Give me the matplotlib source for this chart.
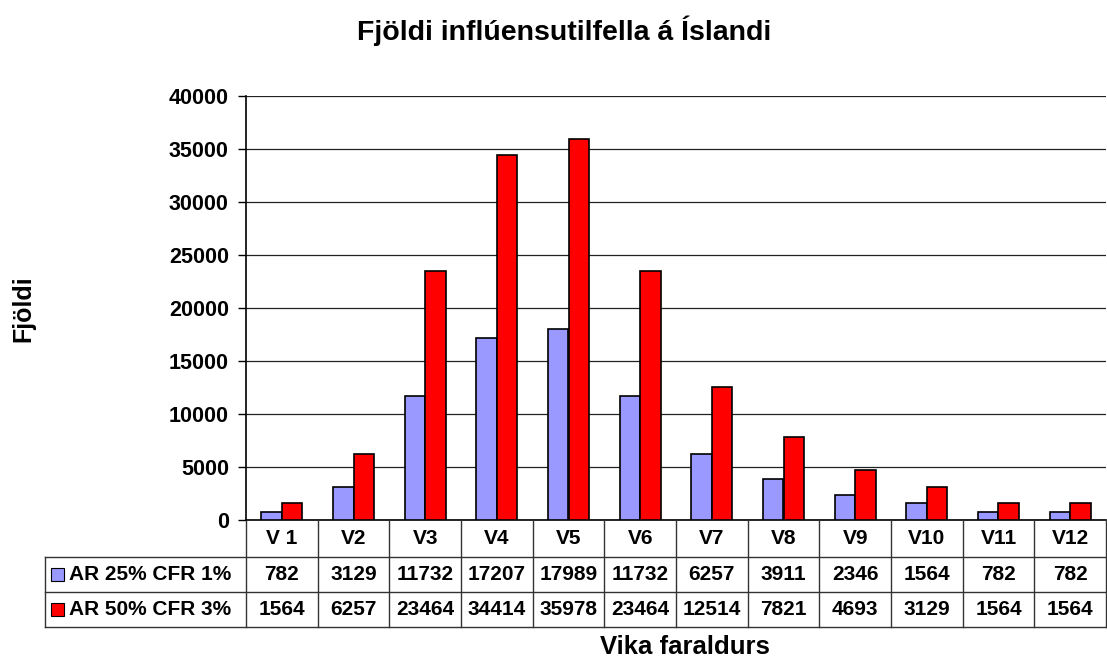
import matplotlib.pyplot as plt
import matplotlib.transforms as mtransforms
from matplotlib.patches import Rectangle
import numpy as np

plt.rcParams['font.family'] = ['Liberation Sans', 'DejaVu Sans']
plt.rcParams['font.weight'] = 'bold'

weeks = ['V 1', 'V2', 'V3', 'V4', 'V5', 'V6', 'V7', 'V8', 'V9', 'V10', 'V11', 'V12']
series_names = ['AR 25% CFR 1%', 'AR 50% CFR 3%']
ar25 = [782, 3129, 11732, 17207, 17989, 11732, 6257, 3911, 2346, 1564, 782, 782]
ar50 = [1564, 6257, 23464, 34414, 35978, 23464, 12514, 7821, 4693, 3129, 1564, 1564]
colors = ['#9999FF', '#FF0000']

W, H = 1107, 659
fig = plt.figure(figsize=(W / 100, H / 100), dpi=100)

# plot area in pixels
left, right, top, bottom = 246, 1106, 96, 520
ax = fig.add_axes([left / W, 1 - bottom / H, (right - left) / W, (bottom - top) / H])

x = np.arange(len(weeks))
bw = 1 / 3.5
ax.bar(x - bw / 2, ar25, bw, color=colors[0], edgecolor='black', linewidth=1.2, zorder=3)
ax.bar(x + bw / 2, ar50, bw, color=colors[1], edgecolor='black', linewidth=1.2, zorder=3)

ax.set_xlim(-0.5, len(weeks) - 0.5)
ax.set_ylim(0, 40000)
ax.set_yticks(np.arange(0, 40001, 5000))
ax.tick_params(axis='y', labelsize=15.5, length=5.8, width=1, direction='out', pad=6.5)
ax.set_xticks([])
ax.grid(axis='y', color='#222222', linewidth=0.9, zorder=0)
for s in ['top', 'right', 'bottom']:
    ax.spines[s].set_visible(False)
ax.spines['left'].set_linewidth(1.2)

# data table under the chart
trans = mtransforms.blended_transform_factory(ax.transData, fig.transFigure)
ftrans = fig.transFigure
row_y = [520, 557, 592, 627]
fy = [1 - v / H for v in row_y]
lw = 1.0
lc = '#333333'
ax.plot([-0.5, len(weeks) - 0.5], [fy[0], fy[0]], transform=trans, color='black', lw=1.2, clip_on=False)
for yy in fy[1:]:
    fig.add_artist(plt.Line2D([45 / W, right / W], [yy, yy], color=lc, lw=lw))
for i in range(len(weeks) + 1):
    ax.plot([i - 0.5, i - 0.5], [fy[0], fy[3]], transform=trans, color=lc, lw=lw, clip_on=False)
fig.add_artist(plt.Line2D([45 / W, 45 / W], [fy[1], fy[3]], color=lc, lw=lw))

fs = 15
for i, w in enumerate(weeks):
    ax.text(i, (fy[0] + fy[1]) / 2, w, transform=trans, ha='center', va='center', fontsize=fs)
    ax.text(i, (fy[1] + fy[2]) / 2, str(ar25[i]), transform=trans, ha='center', va='center', fontsize=fs)
    ax.text(i, (fy[2] + fy[3]) / 2, str(ar50[i]), transform=trans, ha='center', va='center', fontsize=fs)

for k, name in enumerate(series_names):
    yc = (fy[k + 1] + fy[k + 2]) / 2
    fig.add_artist(Rectangle((51 / W, yc - 6.5 / H), 13 / W, 13 / H, transform=ftrans,
                             facecolor=colors[k], edgecolor='black', lw=0.8))
    fig.text(69 / W, yc, name, ha='left', va='center', fontsize=fs)

fig.text(564 / W, 1 - 31 / H, 'Fjöldi inflúensutilfella á Íslandi', ha='center', va='center', fontsize=20.5)
fig.text(23 / W, 1 - 309 / H, 'Fjöldi', ha='center', va='center', rotation=90, fontsize=18)
fig.text(685 / W, 1 - 647 / H, 'Vika faraldurs', ha='center', va='center', fontsize=18.5)

fig.savefig('out.png', dpi=100)
